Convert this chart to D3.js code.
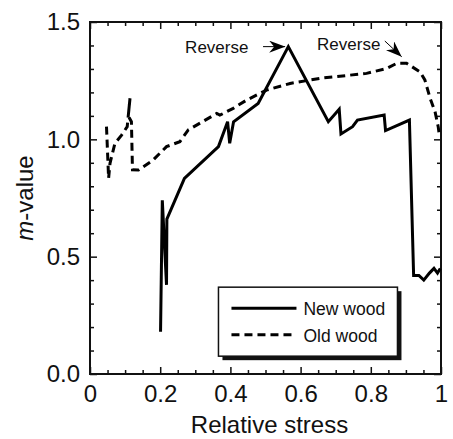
<!DOCTYPE html>
<html>
<head>
<meta charset="utf-8">
<script src="https://cdn.jsdelivr.net/npm/d3@7"></script>
<style>
  body { margin: 0; background: #fff; }
  text { font-family: "Liberation Sans", Arial, sans-serif; fill: #111; }
</style>
</head>
<body>
<div id="chart"></div>
<script>
var width = 453,
    height = 439;

var margin = {top: 22, right: 12, bottom: 65, left: 90};

// relative stress vs m-value
var newWood = [
  [0.201, 0.18], [0.206, 0.74], [0.218, 0.38], [0.219, 0.66],
  [0.269, 0.834], [0.366, 0.969], [0.392, 1.075], [0.398, 0.983],
  [0.409, 1.075], [0.479, 1.153], [0.565, 1.395], [0.679, 1.075],
  [0.710, 1.128], [0.715, 1.023], [0.748, 1.054], [0.762, 1.082],
  [0.838, 1.104], [0.842, 1.037], [0.910, 1.082], [0.922, 0.42],
  [0.937, 0.42], [0.951, 0.40], [0.967, 0.43], [0.980, 0.45],
  [0.990, 0.43], [0.998, 0.45]
];

var oldWood = [
  [0.047, 1.054], [0.053, 0.834], [0.057, 0.898], [0.071, 0.983],
  [0.090, 1.018], [0.106, 1.054], [0.114, 1.175], [0.109, 1.10],
  [0.118, 1.075], [0.121, 0.87], [0.138, 0.869], [0.180, 0.912],
  [0.218, 0.969], [0.256, 0.99], [0.280, 1.04], [0.361, 1.11],
  [0.370, 1.103], [0.408, 1.132], [0.446, 1.167], [0.503, 1.21],
  [0.570, 1.238], [0.655, 1.26], [0.788, 1.281], [0.845, 1.302],
  [0.874, 1.324], [0.902, 1.324], [0.940, 1.288], [0.954, 1.253],
  [0.969, 1.175], [0.983, 1.118], [0.992, 1.054], [0.996, 1.01]
];

var xMajor = [0, 0.2, 0.4, 0.6, 0.8, 1];
var xMinor = [0.05, 0.1, 0.15, 0.25, 0.3, 0.35, 0.45, 0.5, 0.55, 0.65, 0.7, 0.75, 0.85, 0.9, 0.95];
var yMajor = [0, 0.5, 1.0, 1.5];
var yMinor = [0.1, 0.2, 0.3, 0.4, 0.6, 0.7, 0.8, 0.9, 1.1, 1.2, 1.3, 1.4];

// arrows: text position, arrow tail, arrow tip
var notes = [
  {label: "Reverse", tx: 0.271, ty: 1.37, x1: 0.493, y1: 1.395, x2: 0.556, y2: 1.395},
  {label: "Reverse", tx: 0.647, ty: 1.38, x1: 0.840, y1: 1.419, x2: 0.888, y2: 1.352}
];

var series = [
  {name: "New wood", data: newWood, dash: null},
  {name: "Old wood", data: oldWood, dash: "8,5"}
];

var w = width - margin.left - margin.right,
    h = height - margin.top - margin.bottom;

var svg = d3.select("#chart")
    .append("svg")
    .attr("width", width)
    .attr("height", height)

var g = svg.append("g")
    .attr("transform", "translate(" + margin.left + "," + margin.top + ")")

var x = d3.scaleLinear().domain([0, 1]).range([0, w])
var y = d3.scaleLinear().domain([0, 1.5]).range([h, 0])

var fmtX = function(d) { return d == 0 || d == 1 ? d3.format("d")(d) : d3.format(".1f")(d) }

function drawTicks(axis, translate, values, size, labels, fmt, pad) {
    var a = g.append("g")
        .attr("transform", translate)
        .call(axis.tickValues(values).tickSize(size).tickPadding(pad || 3)
            .tickFormat(labels ? fmt : ""))
    a.select(".domain").remove()
    a.selectAll("line").attr("stroke", "#111").attr("stroke-width", 1.5)
    a.selectAll("text").style("font-size", "24px").attr("fill", "#111")
    return a
}

// bottom / top
drawTicks(d3.axisBottom(x), "translate(0," + h + ")", xMajor, -7, true, fmtX, 11)
drawTicks(d3.axisBottom(x), "translate(0," + h + ")", xMinor, -4, false)
drawTicks(d3.axisTop(x), "translate(0,0)", xMajor, -7, false)
drawTicks(d3.axisTop(x), "translate(0,0)", xMinor, -4, false)
// left / right
drawTicks(d3.axisLeft(y), "translate(0,0)", yMajor, -7, true, d3.format(".1f"), 10)
drawTicks(d3.axisLeft(y), "translate(0,0)", yMinor, -4, false)
drawTicks(d3.axisRight(y), "translate(" + w + ",0)", yMajor, -7, false)
drawTicks(d3.axisRight(y), "translate(" + w + ",0)", yMinor, -4, false)

g.append("rect")
    .attr("width", w)
    .attr("height", h)
    .attr("fill", "none")
    .attr("stroke", "#111")
    .attr("stroke-width", 2)

var line = d3.line()
    .x(function(d) { return x(d[0]) })
    .y(function(d) { return y(d[1]) })

g.selectAll(".series")
    .data(series)
    .enter().append("path")
    .attr("class", "series")
    .attr("d", function(d) { return line(d.data) })
    .attr("fill", "none")
    .attr("stroke", "#000")
    .attr("stroke-width", 3)
    .attr("stroke-linejoin", "miter")
    .attr("stroke-dasharray", function(d) { return d.dash })

// arrowhead
svg.append("defs").append("marker")
    .attr("id", "head")
    .attr("viewBox", "0 0 16 12")
    .attr("refX", 16)
    .attr("refY", 6)
    .attr("markerWidth", 16)
    .attr("markerHeight", 12)
    .attr("markerUnits", "userSpaceOnUse")
    .attr("orient", "auto")
    .append("path")
    .attr("d", "M0,0 L16,6 L0,12 L5,6 Z")
    .attr("fill", "#000")

g.selectAll(".arrow")
    .data(notes)
    .enter().append("line")
    .attr("class", "arrow")
    .attr("x1", function(d) { return x(d.x1) })
    .attr("y1", function(d) { return y(d.y1) })
    .attr("x2", function(d) { return x(d.x2) })
    .attr("y2", function(d) { return y(d.y2) })
    .attr("stroke", "#000")
    .attr("stroke-width", 1)
    .attr("marker-end", "url(#head)")

g.selectAll(".note")
    .data(notes)
    .enter().append("text")
    .attr("class", "note")
    .attr("x", function(d) { return x(d.tx) })
    .attr("y", function(d) { return y(d.ty) })
    .style("font-size", "17px")
    .text(function(d) { return d.label })

// legend
var lg = g.append("g").attr("transform", "translate(" + (x(0.366)) + "," + (y(0.37)) + ")")
lg.append("rect")
    .attr("x", 4).attr("y", 4)
    .attr("width", 179).attr("height", 69)
    .attr("fill", "#111")
lg.append("rect")
    .attr("width", 179).attr("height", 69)
    .attr("fill", "#fff")
    .attr("stroke", "#111")
    .attr("stroke-width", 1.5)

var items = lg.selectAll(".item")
    .data(series)
    .enter().append("g")
    .attr("class", "item")
    .attr("transform", function(d, i) { return "translate(13," + (21 + i * 26.5) + ")" })
items.append("line")
    .attr("x1", 0).attr("x2", 65)
    .attr("stroke", "#000")
    .attr("stroke-width", 3)
    .attr("stroke-dasharray", function(d) { return d.dash })
items.append("text")
    .attr("x", 72)
    .attr("y", 7)
    .style("font-size", "17.5px")
    .text(function(d) { return d.name })

// axis titles
svg.append("text")
    .attr("x", margin.left + w / 2 + 4)
    .attr("y", 433)
    .attr("text-anchor", "middle")
    .style("font-size", "24px")
    .text("Relative stress")

var yt = svg.append("text")
    .attr("transform", "translate(33," + (margin.top + h / 2) + ") rotate(-90)")
    .attr("text-anchor", "middle")
    .style("font-size", "24px")
yt.append("tspan").style("font-style", "italic").text("m")
yt.append("tspan").text("-value")
</script>
</body>
</html>
